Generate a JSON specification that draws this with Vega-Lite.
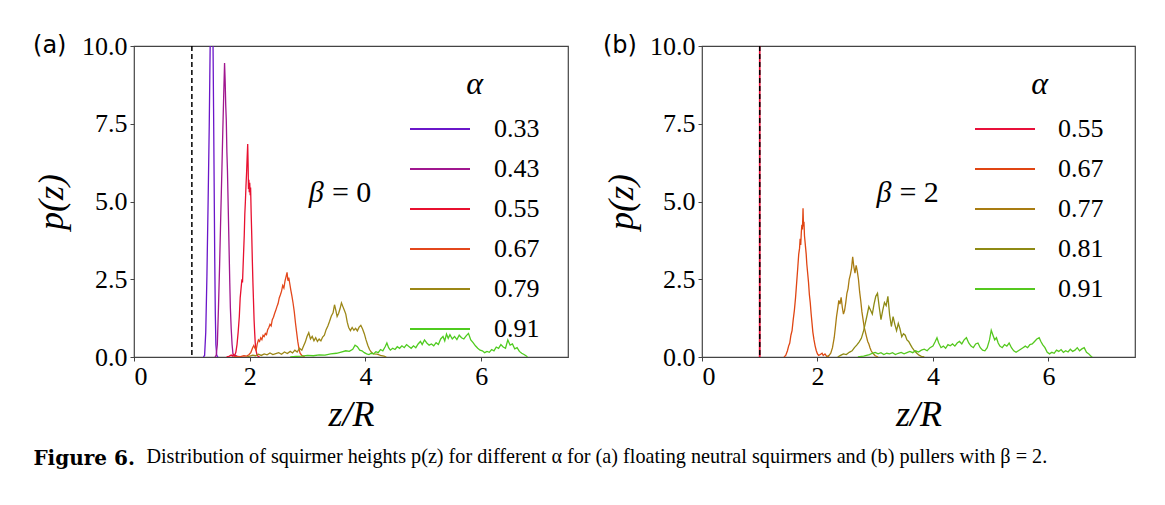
{
  "$schema": "https://vega.github.io/schema/vega-lite/v6.json",
  "background": "white",
  "padding": {"left": 32, "top": 32, "right": 5, "bottom": 5},
  "config": {
    "font": "Liberation Serif",
    "view": {"stroke": "#444", "strokeWidth": 1.2},
    "axis": {"grid": false, "domain": false, "tickColor": "#444", "tickSize": 4, "tickWidth": 1, "labelFont": "Liberation Serif", "labelFontSize": 26, "labelColor": "black", "titleFont": "Liberation Serif", "titleFontSize": 36, "titleFontStyle": "italic", "titleFontWeight": "normal", "titleColor": "black"}
  },
  "datasets": {
    "a": [
      {"s":"0.33","z":1.20,"p":0},{"s":"0.33","z":1.22,"p":0.05},{"s":"0.33","z":1.24,"p":0.8},{"s":"0.33","z":1.26,"p":2.6},{"s":"0.33","z":1.28,"p":4.9},{"s":"0.33","z":1.30,"p":7.4},{"s":"0.33","z":1.31,"p":9.0},{"s":"0.33","z":1.32,"p":10.6},{"s":"0.33","z":1.33,"p":11.8},{"s":"0.33","z":1.345,"p":12.2},{"s":"0.33","z":1.355,"p":11.4},{"s":"0.33","z":1.365,"p":10.2},{"s":"0.33","z":1.375,"p":8.0},{"s":"0.33","z":1.385,"p":5.6},{"s":"0.33","z":1.395,"p":3.2},{"s":"0.33","z":1.405,"p":1.4},{"s":"0.33","z":1.415,"p":0.4},{"s":"0.33","z":1.43,"p":0.05},{"s":"0.33","z":1.45,"p":0},
      {"s":"0.43","z":1.40,"p":0},{"s":"0.43","z":1.42,"p":0.05},{"s":"0.43","z":1.44,"p":0.4},{"s":"0.43","z":1.46,"p":1.6},{"s":"0.43","z":1.48,"p":3.0},{"s":"0.43","z":1.50,"p":4.6},{"s":"0.43","z":1.52,"p":6.1},{"s":"0.43","z":1.535,"p":7.3},{"s":"0.43","z":1.55,"p":8.4},{"s":"0.43","z":1.565,"p":9.45},{"s":"0.43","z":1.575,"p":8.9},{"s":"0.43","z":1.585,"p":8.1},{"s":"0.43","z":1.595,"p":7.6},{"s":"0.43","z":1.605,"p":6.6},{"s":"0.43","z":1.615,"p":6.0},{"s":"0.43","z":1.625,"p":5.1},{"s":"0.43","z":1.635,"p":4.2},{"s":"0.43","z":1.645,"p":3.3},{"s":"0.43","z":1.655,"p":2.4},{"s":"0.43","z":1.665,"p":1.6},{"s":"0.43","z":1.68,"p":0.9},{"s":"0.43","z":1.695,"p":0.4},{"s":"0.43","z":1.71,"p":0.1},{"s":"0.43","z":1.73,"p":0.02},{"s":"0.43","z":1.76,"p":0.05},{"s":"0.43","z":1.80,"p":0},
      {"s":"0.55","z":1.60,"p":0},{"s":"0.55","z":1.64,"p":0.02},{"s":"0.55","z":1.68,"p":0.06},{"s":"0.55","z":1.70,"p":0.03},{"s":"0.55","z":1.72,"p":0.08},{"s":"0.55","z":1.74,"p":0.05},{"s":"0.55","z":1.76,"p":0.15},{"s":"0.55","z":1.78,"p":0.4},{"s":"0.55","z":1.80,"p":0.8},{"s":"0.55","z":1.82,"p":1.3},{"s":"0.55","z":1.835,"p":1.9},{"s":"0.55","z":1.85,"p":2.2},{"s":"0.55","z":1.865,"p":2.5},{"s":"0.55","z":1.875,"p":2.4},{"s":"0.55","z":1.885,"p":2.9},{"s":"0.55","z":1.895,"p":3.4},{"s":"0.55","z":1.905,"p":3.9},{"s":"0.55","z":1.915,"p":4.6},{"s":"0.55","z":1.925,"p":5.0},{"s":"0.55","z":1.935,"p":5.5},{"s":"0.55","z":1.945,"p":5.9},{"s":"0.55","z":1.955,"p":6.4},{"s":"0.55","z":1.965,"p":6.85},{"s":"0.55","z":1.972,"p":6.2},{"s":"0.55","z":1.978,"p":5.4},{"s":"0.55","z":1.985,"p":5.7},{"s":"0.55","z":1.992,"p":5.3},{"s":"0.55","z":2.0,"p":5.6},{"s":"0.55","z":2.008,"p":5.2},{"s":"0.55","z":2.015,"p":5.45},{"s":"0.55","z":2.025,"p":4.6},{"s":"0.55","z":2.035,"p":3.9},{"s":"0.55","z":2.045,"p":3.1},{"s":"0.55","z":2.055,"p":2.4},{"s":"0.55","z":2.065,"p":1.8},{"s":"0.55","z":2.075,"p":1.2},{"s":"0.55","z":2.085,"p":0.8},{"s":"0.55","z":2.095,"p":0.45},{"s":"0.55","z":2.11,"p":0.2},{"s":"0.55","z":2.125,"p":0.08},{"s":"0.55","z":2.14,"p":0.03},{"s":"0.55","z":2.17,"p":0},
      {"s":"0.67","z":1.72,"p":0},{"s":"0.67","z":1.78,"p":0.02},{"s":"0.67","z":1.84,"p":0.01},{"s":"0.67","z":1.90,"p":0.04},{"s":"0.67","z":1.95,"p":0.03},{"s":"0.67","z":1.99,"p":0.08},{"s":"0.67","z":2.02,"p":0.15},{"s":"0.67","z":2.05,"p":0.3},{"s":"0.67","z":2.07,"p":0.37},{"s":"0.67","z":2.09,"p":0.28},{"s":"0.67","z":2.11,"p":0.22},{"s":"0.67","z":2.13,"p":0.42},{"s":"0.67","z":2.15,"p":0.55},{"s":"0.67","z":2.17,"p":0.5},{"s":"0.67","z":2.19,"p":0.62},{"s":"0.67","z":2.21,"p":0.56},{"s":"0.67","z":2.23,"p":0.7},{"s":"0.67","z":2.25,"p":0.66},{"s":"0.67","z":2.27,"p":0.76},{"s":"0.67","z":2.29,"p":0.72},{"s":"0.67","z":2.31,"p":0.88},{"s":"0.67","z":2.33,"p":0.95},{"s":"0.67","z":2.35,"p":1.05},{"s":"0.67","z":2.37,"p":1.0},{"s":"0.67","z":2.39,"p":1.2},{"s":"0.67","z":2.41,"p":1.28},{"s":"0.67","z":2.43,"p":1.4},{"s":"0.67","z":2.45,"p":1.5},{"s":"0.67","z":2.47,"p":1.62},{"s":"0.67","z":2.49,"p":1.72},{"s":"0.67","z":2.51,"p":1.9},{"s":"0.67","z":2.53,"p":2.0},{"s":"0.67","z":2.55,"p":2.12},{"s":"0.67","z":2.57,"p":2.3},{"s":"0.67","z":2.59,"p":2.22},{"s":"0.67","z":2.61,"p":2.45},{"s":"0.67","z":2.63,"p":2.6},{"s":"0.67","z":2.645,"p":2.72},{"s":"0.67","z":2.66,"p":2.45},{"s":"0.67","z":2.675,"p":2.55},{"s":"0.67","z":2.69,"p":2.38},{"s":"0.67","z":2.71,"p":2.15},{"s":"0.67","z":2.73,"p":1.95},{"s":"0.67","z":2.75,"p":1.72},{"s":"0.67","z":2.77,"p":1.45},{"s":"0.67","z":2.79,"p":1.1},{"s":"0.67","z":2.81,"p":0.8},{"s":"0.67","z":2.83,"p":0.5},{"s":"0.67","z":2.85,"p":0.28},{"s":"0.67","z":2.87,"p":0.12},{"s":"0.67","z":2.9,"p":0.05},{"s":"0.67","z":2.95,"p":0},
      {"s":"0.79","z":1.95,"p":0},{"s":"0.79","z":2.0,"p":0.03},{"s":"0.79","z":2.05,"p":0.06},{"s":"0.79","z":2.1,"p":0.04},{"s":"0.79","z":2.15,"p":0.09},{"s":"0.79","z":2.2,"p":0.05},{"s":"0.79","z":2.25,"p":0.1},{"s":"0.79","z":2.3,"p":0.07},{"s":"0.79","z":2.35,"p":0.13},{"s":"0.79","z":2.4,"p":0.08},{"s":"0.79","z":2.45,"p":0.11},{"s":"0.79","z":2.5,"p":0.14},{"s":"0.79","z":2.55,"p":0.09},{"s":"0.79","z":2.6,"p":0.16},{"s":"0.79","z":2.65,"p":0.11},{"s":"0.79","z":2.7,"p":0.18},{"s":"0.79","z":2.74,"p":0.13},{"s":"0.79","z":2.78,"p":0.22},{"s":"0.79","z":2.82,"p":0.16},{"s":"0.79","z":2.86,"p":0.28},{"s":"0.79","z":2.9,"p":0.22},{"s":"0.79","z":2.93,"p":0.35},{"s":"0.79","z":2.96,"p":0.48},{"s":"0.79","z":2.99,"p":0.66},{"s":"0.79","z":3.02,"p":0.78},{"s":"0.79","z":3.05,"p":0.58},{"s":"0.79","z":3.08,"p":0.66},{"s":"0.79","z":3.11,"p":0.52},{"s":"0.79","z":3.14,"p":0.62},{"s":"0.79","z":3.17,"p":0.5},{"s":"0.79","z":3.2,"p":0.58},{"s":"0.79","z":3.23,"p":0.52},{"s":"0.79","z":3.26,"p":0.64},{"s":"0.79","z":3.29,"p":0.7},{"s":"0.79","z":3.32,"p":0.88},{"s":"0.79","z":3.35,"p":1.0},{"s":"0.79","z":3.38,"p":1.15},{"s":"0.79","z":3.41,"p":1.32},{"s":"0.79","z":3.44,"p":1.42},{"s":"0.79","z":3.465,"p":1.68},{"s":"0.79","z":3.49,"p":1.48},{"s":"0.79","z":3.51,"p":1.3},{"s":"0.79","z":3.535,"p":1.4},{"s":"0.79","z":3.56,"p":1.55},{"s":"0.79","z":3.585,"p":1.74},{"s":"0.79","z":3.61,"p":1.62},{"s":"0.79","z":3.635,"p":1.5},{"s":"0.79","z":3.66,"p":1.38},{"s":"0.79","z":3.685,"p":1.12},{"s":"0.79","z":3.71,"p":0.95},{"s":"0.79","z":3.74,"p":0.85},{"s":"0.79","z":3.77,"p":0.95},{"s":"0.79","z":3.8,"p":0.86},{"s":"0.79","z":3.83,"p":0.92},{"s":"0.79","z":3.86,"p":0.84},{"s":"0.79","z":3.89,"p":0.96},{"s":"0.79","z":3.92,"p":1.02},{"s":"0.79","z":3.95,"p":0.9},{"s":"0.79","z":3.98,"p":0.75},{"s":"0.79","z":4.01,"p":0.55},{"s":"0.79","z":4.04,"p":0.38},{"s":"0.79","z":4.07,"p":0.24},{"s":"0.79","z":4.1,"p":0.16},{"s":"0.79","z":4.14,"p":0.1},{"s":"0.79","z":4.2,"p":0.09},{"s":"0.79","z":4.26,"p":0.05},{"s":"0.79","z":4.32,"p":0.03},{"s":"0.79","z":4.36,"p":0},
      {"s":"0.91","z":2.7,"p":0},{"s":"0.91","z":2.8,"p":0.02},{"s":"0.91","z":2.9,"p":0.03},{"s":"0.91","z":3.0,"p":0.05},{"s":"0.91","z":3.1,"p":0.04},{"s":"0.91","z":3.2,"p":0.07},{"s":"0.91","z":3.3,"p":0.06},{"s":"0.91","z":3.4,"p":0.1},{"s":"0.91","z":3.5,"p":0.12},{"s":"0.91","z":3.58,"p":0.16},{"s":"0.91","z":3.66,"p":0.2},{"s":"0.91","z":3.72,"p":0.18},{"s":"0.91","z":3.78,"p":0.25},{"s":"0.91","z":3.82,"p":0.38},{"s":"0.91","z":3.86,"p":0.33},{"s":"0.91","z":3.9,"p":0.22},{"s":"0.91","z":3.94,"p":0.2},{"s":"0.91","z":3.98,"p":0.14},{"s":"0.91","z":4.02,"p":0.1},{"s":"0.91","z":4.06,"p":0.08},{"s":"0.91","z":4.1,"p":0.12},{"s":"0.91","z":4.14,"p":0.1},{"s":"0.91","z":4.18,"p":0.17},{"s":"0.91","z":4.22,"p":0.14},{"s":"0.91","z":4.26,"p":0.24},{"s":"0.91","z":4.3,"p":0.2},{"s":"0.91","z":4.34,"p":0.33},{"s":"0.91","z":4.37,"p":0.45},{"s":"0.91","z":4.4,"p":0.3},{"s":"0.91","z":4.43,"p":0.22},{"s":"0.91","z":4.47,"p":0.28},{"s":"0.91","z":4.51,"p":0.24},{"s":"0.91","z":4.55,"p":0.33},{"s":"0.91","z":4.59,"p":0.28},{"s":"0.91","z":4.63,"p":0.36},{"s":"0.91","z":4.67,"p":0.3},{"s":"0.91","z":4.71,"p":0.4},{"s":"0.91","z":4.75,"p":0.34},{"s":"0.91","z":4.79,"p":0.28},{"s":"0.91","z":4.83,"p":0.36},{"s":"0.91","z":4.87,"p":0.3},{"s":"0.91","z":4.91,"p":0.42},{"s":"0.91","z":4.95,"p":0.5},{"s":"0.91","z":4.98,"p":0.4},{"s":"0.91","z":5.02,"p":0.55},{"s":"0.91","z":5.06,"p":0.45},{"s":"0.91","z":5.1,"p":0.38},{"s":"0.91","z":5.14,"p":0.42},{"s":"0.91","z":5.18,"p":0.36},{"s":"0.91","z":5.22,"p":0.46},{"s":"0.91","z":5.26,"p":0.4},{"s":"0.91","z":5.3,"p":0.58},{"s":"0.91","z":5.34,"p":0.66},{"s":"0.91","z":5.37,"p":0.52},{"s":"0.91","z":5.4,"p":0.74},{"s":"0.91","z":5.43,"p":0.6},{"s":"0.91","z":5.46,"p":0.72},{"s":"0.91","z":5.5,"p":0.58},{"s":"0.91","z":5.54,"p":0.66},{"s":"0.91","z":5.58,"p":0.56},{"s":"0.91","z":5.62,"p":0.7},{"s":"0.91","z":5.66,"p":0.62},{"s":"0.91","z":5.7,"p":0.58},{"s":"0.91","z":5.74,"p":0.68},{"s":"0.91","z":5.78,"p":0.76},{"s":"0.91","z":5.82,"p":0.55},{"s":"0.91","z":5.86,"p":0.46},{"s":"0.91","z":5.9,"p":0.36},{"s":"0.91","z":5.94,"p":0.28},{"s":"0.91","z":5.98,"p":0.22},{"s":"0.91","z":6.02,"p":0.2},{"s":"0.91","z":6.06,"p":0.14},{"s":"0.91","z":6.1,"p":0.18},{"s":"0.91","z":6.14,"p":0.15},{"s":"0.91","z":6.18,"p":0.24},{"s":"0.91","z":6.22,"p":0.2},{"s":"0.91","z":6.26,"p":0.32},{"s":"0.91","z":6.3,"p":0.28},{"s":"0.91","z":6.34,"p":0.4},{"s":"0.91","z":6.38,"p":0.32},{"s":"0.91","z":6.42,"p":0.28},{"s":"0.91","z":6.46,"p":0.55},{"s":"0.91","z":6.5,"p":0.38},{"s":"0.91","z":6.54,"p":0.42},{"s":"0.91","z":6.58,"p":0.26},{"s":"0.91","z":6.62,"p":0.3},{"s":"0.91","z":6.66,"p":0.18},{"s":"0.91","z":6.7,"p":0.12},{"s":"0.91","z":6.74,"p":0.08},{"s":"0.91","z":6.78,"p":0.03},{"s":"0.91","z":6.8,"p":0}
    ],
    "b": [
      {"s":"0.55","z":0.995,"p":0},{"s":"0.55","z":1.0,"p":30},{"s":"0.55","z":1.005,"p":0},
      {"s":"0.67","z":1.42,"p":0},{"s":"0.67","z":1.45,"p":0.05},{"s":"0.67","z":1.48,"p":0.2},{"s":"0.67","z":1.5,"p":0.35},{"s":"0.67","z":1.52,"p":0.45},{"s":"0.67","z":1.54,"p":0.7},{"s":"0.67","z":1.56,"p":0.85},{"s":"0.67","z":1.58,"p":1.2},{"s":"0.67","z":1.6,"p":1.5},{"s":"0.67","z":1.62,"p":1.9},{"s":"0.67","z":1.64,"p":2.4},{"s":"0.67","z":1.66,"p":2.9},{"s":"0.67","z":1.675,"p":3.3},{"s":"0.67","z":1.69,"p":3.5},{"s":"0.67","z":1.7,"p":3.8},{"s":"0.67","z":1.71,"p":3.6},{"s":"0.67","z":1.72,"p":4.0},{"s":"0.67","z":1.73,"p":4.25},{"s":"0.67","z":1.74,"p":4.1},{"s":"0.67","z":1.75,"p":4.78},{"s":"0.67","z":1.758,"p":4.2},{"s":"0.67","z":1.766,"p":4.35},{"s":"0.67","z":1.775,"p":3.9},{"s":"0.67","z":1.785,"p":3.7},{"s":"0.67","z":1.795,"p":3.5},{"s":"0.67","z":1.805,"p":3.3},{"s":"0.67","z":1.815,"p":3.0},{"s":"0.67","z":1.83,"p":2.7},{"s":"0.67","z":1.845,"p":2.4},{"s":"0.67","z":1.86,"p":2.0},{"s":"0.67","z":1.875,"p":1.75},{"s":"0.67","z":1.89,"p":1.4},{"s":"0.67","z":1.905,"p":1.1},{"s":"0.67","z":1.92,"p":0.8},{"s":"0.67","z":1.94,"p":0.55},{"s":"0.67","z":1.96,"p":0.35},{"s":"0.67","z":1.98,"p":0.2},{"s":"0.67","z":2.0,"p":0.1},{"s":"0.67","z":2.02,"p":0.05},{"s":"0.67","z":2.05,"p":0.08},{"s":"0.67","z":2.08,"p":0.12},{"s":"0.67","z":2.1,"p":0.05},{"s":"0.67","z":2.13,"p":0.1},{"s":"0.67","z":2.16,"p":0.02},{"s":"0.67","z":2.2,"p":0},
      {"s":"0.77","z":2.15,"p":0},{"s":"0.77","z":2.2,"p":0.05},{"s":"0.77","z":2.23,"p":0.12},{"s":"0.77","z":2.26,"p":0.3},{"s":"0.77","z":2.29,"p":0.62},{"s":"0.77","z":2.31,"p":0.95},{"s":"0.77","z":2.33,"p":1.3},{"s":"0.77","z":2.35,"p":1.55},{"s":"0.77","z":2.37,"p":1.82},{"s":"0.77","z":2.39,"p":1.7},{"s":"0.77","z":2.41,"p":1.92},{"s":"0.77","z":2.43,"p":1.6},{"s":"0.77","z":2.45,"p":1.38},{"s":"0.77","z":2.47,"p":1.5},{"s":"0.77","z":2.49,"p":1.75},{"s":"0.77","z":2.51,"p":2.05},{"s":"0.77","z":2.53,"p":2.2},{"s":"0.77","z":2.55,"p":2.5},{"s":"0.77","z":2.57,"p":2.65},{"s":"0.77","z":2.59,"p":2.85},{"s":"0.77","z":2.61,"p":3.22},{"s":"0.77","z":2.63,"p":2.9},{"s":"0.77","z":2.65,"p":2.7},{"s":"0.77","z":2.67,"p":2.95},{"s":"0.77","z":2.69,"p":2.75},{"s":"0.77","z":2.71,"p":2.5},{"s":"0.77","z":2.73,"p":2.1},{"s":"0.77","z":2.75,"p":1.8},{"s":"0.77","z":2.77,"p":1.45},{"s":"0.77","z":2.79,"p":1.2},{"s":"0.77","z":2.81,"p":0.95},{"s":"0.77","z":2.83,"p":0.8},{"s":"0.77","z":2.85,"p":0.65},{"s":"0.77","z":2.87,"p":0.5},{"s":"0.77","z":2.89,"p":0.42},{"s":"0.77","z":2.91,"p":0.3},{"s":"0.77","z":2.93,"p":0.2},{"s":"0.77","z":2.96,"p":0.12},{"s":"0.77","z":3.0,"p":0.04},{"s":"0.77","z":3.05,"p":0},
      {"s":"0.81","z":2.35,"p":0},{"s":"0.81","z":2.4,"p":0.05},{"s":"0.81","z":2.45,"p":0.1},{"s":"0.81","z":2.5,"p":0.08},{"s":"0.81","z":2.55,"p":0.15},{"s":"0.81","z":2.6,"p":0.2},{"s":"0.81","z":2.64,"p":0.3},{"s":"0.81","z":2.68,"p":0.38},{"s":"0.81","z":2.72,"p":0.48},{"s":"0.81","z":2.76,"p":0.6},{"s":"0.81","z":2.8,"p":0.85},{"s":"0.81","z":2.83,"p":1.1},{"s":"0.81","z":2.86,"p":1.35},{"s":"0.81","z":2.89,"p":1.62},{"s":"0.81","z":2.92,"p":1.5},{"s":"0.81","z":2.95,"p":1.38},{"s":"0.81","z":2.98,"p":1.7},{"s":"0.81","z":3.01,"p":1.95},{"s":"0.81","z":3.04,"p":2.05},{"s":"0.81","z":3.07,"p":1.6},{"s":"0.81","z":3.1,"p":1.2},{"s":"0.81","z":3.13,"p":1.5},{"s":"0.81","z":3.16,"p":1.75},{"s":"0.81","z":3.19,"p":1.65},{"s":"0.81","z":3.22,"p":1.95},{"s":"0.81","z":3.25,"p":1.35},{"s":"0.81","z":3.28,"p":0.98},{"s":"0.81","z":3.31,"p":1.3},{"s":"0.81","z":3.34,"p":1.05},{"s":"0.81","z":3.37,"p":0.85},{"s":"0.81","z":3.4,"p":1.08},{"s":"0.81","z":3.43,"p":0.9},{"s":"0.81","z":3.46,"p":0.65},{"s":"0.81","z":3.49,"p":0.75},{"s":"0.81","z":3.52,"p":0.7},{"s":"0.81","z":3.55,"p":0.55},{"s":"0.81","z":3.58,"p":0.5},{"s":"0.81","z":3.61,"p":0.4},{"s":"0.81","z":3.64,"p":0.3},{"s":"0.81","z":3.68,"p":0.2},{"s":"0.81","z":3.72,"p":0.12},{"s":"0.81","z":3.76,"p":0.06},{"s":"0.81","z":3.8,"p":0.02},{"s":"0.81","z":3.85,"p":0},
      {"s":"0.91","z":2.7,"p":0},{"s":"0.91","z":2.8,"p":0.03},{"s":"0.91","z":2.9,"p":0.08},{"s":"0.91","z":2.95,"p":0.12},{"s":"0.91","z":3.0,"p":0.15},{"s":"0.91","z":3.05,"p":0.1},{"s":"0.91","z":3.1,"p":0.14},{"s":"0.91","z":3.15,"p":0.08},{"s":"0.91","z":3.2,"p":0.12},{"s":"0.91","z":3.25,"p":0.1},{"s":"0.91","z":3.3,"p":0.14},{"s":"0.91","z":3.35,"p":0.08},{"s":"0.91","z":3.4,"p":0.12},{"s":"0.91","z":3.45,"p":0.15},{"s":"0.91","z":3.5,"p":0.1},{"s":"0.91","z":3.55,"p":0.14},{"s":"0.91","z":3.6,"p":0.18},{"s":"0.91","z":3.65,"p":0.14},{"s":"0.91","z":3.7,"p":0.2},{"s":"0.91","z":3.75,"p":0.16},{"s":"0.91","z":3.8,"p":0.22},{"s":"0.91","z":3.85,"p":0.25},{"s":"0.91","z":3.9,"p":0.2},{"s":"0.91","z":3.95,"p":0.3},{"s":"0.91","z":4.0,"p":0.35},{"s":"0.91","z":4.04,"p":0.5},{"s":"0.91","z":4.07,"p":0.62},{"s":"0.91","z":4.1,"p":0.45},{"s":"0.91","z":4.14,"p":0.3},{"s":"0.91","z":4.18,"p":0.35},{"s":"0.91","z":4.22,"p":0.28},{"s":"0.91","z":4.26,"p":0.4},{"s":"0.91","z":4.3,"p":0.36},{"s":"0.91","z":4.34,"p":0.42},{"s":"0.91","z":4.38,"p":0.35},{"s":"0.91","z":4.42,"p":0.45},{"s":"0.91","z":4.46,"p":0.5},{"s":"0.91","z":4.5,"p":0.42},{"s":"0.91","z":4.54,"p":0.55},{"s":"0.91","z":4.58,"p":0.62},{"s":"0.91","z":4.62,"p":0.45},{"s":"0.91","z":4.66,"p":0.35},{"s":"0.91","z":4.7,"p":0.3},{"s":"0.91","z":4.74,"p":0.42},{"s":"0.91","z":4.78,"p":0.45},{"s":"0.91","z":4.82,"p":0.3},{"s":"0.91","z":4.86,"p":0.22},{"s":"0.91","z":4.9,"p":0.2},{"s":"0.91","z":4.94,"p":0.3},{"s":"0.91","z":4.98,"p":0.55},{"s":"0.91","z":5.01,"p":0.86},{"s":"0.91","z":5.04,"p":0.7},{"s":"0.91","z":5.07,"p":0.55},{"s":"0.91","z":5.1,"p":0.62},{"s":"0.91","z":5.13,"p":0.45},{"s":"0.91","z":5.16,"p":0.35},{"s":"0.91","z":5.2,"p":0.3},{"s":"0.91","z":5.24,"p":0.4},{"s":"0.91","z":5.28,"p":0.35},{"s":"0.91","z":5.32,"p":0.45},{"s":"0.91","z":5.36,"p":0.3},{"s":"0.91","z":5.4,"p":0.2},{"s":"0.91","z":5.44,"p":0.15},{"s":"0.91","z":5.48,"p":0.2},{"s":"0.91","z":5.52,"p":0.25},{"s":"0.91","z":5.56,"p":0.3},{"s":"0.91","z":5.6,"p":0.35},{"s":"0.91","z":5.64,"p":0.3},{"s":"0.91","z":5.68,"p":0.4},{"s":"0.91","z":5.72,"p":0.42},{"s":"0.91","z":5.76,"p":0.5},{"s":"0.91","z":5.8,"p":0.58},{"s":"0.91","z":5.84,"p":0.62},{"s":"0.91","z":5.87,"p":0.5},{"s":"0.91","z":5.9,"p":0.4},{"s":"0.91","z":5.94,"p":0.3},{"s":"0.91","z":5.98,"p":0.15},{"s":"0.91","z":6.02,"p":0.1},{"s":"0.91","z":6.06,"p":0.15},{"s":"0.91","z":6.1,"p":0.12},{"s":"0.91","z":6.14,"p":0.22},{"s":"0.91","z":6.18,"p":0.18},{"s":"0.91","z":6.22,"p":0.24},{"s":"0.91","z":6.26,"p":0.15},{"s":"0.91","z":6.3,"p":0.2},{"s":"0.91","z":6.34,"p":0.16},{"s":"0.91","z":6.38,"p":0.25},{"s":"0.91","z":6.42,"p":0.18},{"s":"0.91","z":6.46,"p":0.22},{"s":"0.91","z":6.5,"p":0.3},{"s":"0.91","z":6.54,"p":0.2},{"s":"0.91","z":6.58,"p":0.26},{"s":"0.91","z":6.62,"p":0.3},{"s":"0.91","z":6.66,"p":0.15},{"s":"0.91","z":6.7,"p":0.1},{"s":"0.91","z":6.74,"p":0.02},{"s":"0.91","z":6.76,"p":0}
    ],
    "wall": [{"z": 1}]
  },
  "title": {"text": "Distribution of squirmer heights p(z) for different α for (a) floating neutral squirmers and (b) pullers with β = 2.", "orient": "bottom", "anchor": "start", "frame": "bounds", "font": "Liberation Serif", "fontSize": 20.2, "fontWeight": "normal", "color": "black", "offset": 0, "dx": 114, "dy": -22},
  "vconcat": [
    {
      "title": {"text": "Figure 6.", "orient": "bottom", "anchor": "start", "frame": "bounds", "font": "DejaVu Serif", "fontSize": 20, "fontWeight": "bold", "color": "black", "offset": 16, "dx": 1},
      "spacing": 33,
      "resolve": {"scale": {"color": "independent"}, "legend": {"color": "independent"}},
      "hconcat": [
        {
          "width": 434, "height": 311,
          "layer": [
            {
              "data": {"name": "a"},
              "mark": {"type": "line", "strokeWidth": 1.3, "clip": true},
              "encoding": {
                "x": {"field": "z", "type": "quantitative", "scale": {"domain": [0, 7.5], "nice": false, "zero": false}, "axis": {"values": [0, 2, 4, 6], "format": "d", "title": "z/R", "labelPadding": 2, "titlePadding": 8}},
                "y": {"field": "p", "type": "quantitative", "scale": {"domain": [0, 10], "nice": false}, "axis": {"values": [0, 2.5, 5, 7.5, 10], "format": ".1f", "title": "p(z)", "labelPadding": 3, "titlePadding": 11}},
                "color": {"field": "s", "type": "nominal", "scale": {"domain": ["0.33", "0.43", "0.55", "0.67", "0.79", "0.91"], "range": ["#6a16c9", "#a0168f", "#e8102f", "#e3471c", "#9c8717", "#4fcb1f"]},
                  "legend": {"orient": "none", "legendX": 293, "legendY": 23, "title": "α", "titleFont": "Liberation Serif", "titleFontStyle": "italic", "titleFontSize": 32, "titleFontWeight": "normal", "titleColor": "black", "titleAnchor": "middle", "titleAlign": "right", "titlePadding": 15, "symbolType": "M-3,0H3", "symbolSize": 400, "symbolStrokeWidth": 2, "labelFont": "Liberation Serif", "labelFontSize": 26, "labelColor": "black", "labelOffset": 41, "rowPadding": 14, "padding": 0}}
              }
            },
            {
              "data": {"name": "wall"},
              "mark": {"type": "rule", "color": "black", "strokeDash": [5, 3], "strokeWidth": 1.5},
              "encoding": {"x": {"field": "z", "type": "quantitative"}}
            },
            {
              "data": {"values": [{}]},
              "mark": {"type": "text", "text": "β", "font": "Liberation Serif", "fontStyle": "italic", "fontSize": 30, "color": "black", "align": "center"},
              "encoding": {"x": {"datum": 3.15}, "y": {"datum": 5.26}}
            },
            {
              "data": {"values": [{}]},
              "mark": {"type": "text", "text": "= 0", "font": "Liberation Serif", "fontSize": 30, "color": "black", "align": "left"},
              "encoding": {"x": {"datum": 3.42}, "y": {"datum": 5.26}}
            },
            {
              "data": {"values": [{}]},
              "mark": {"type": "text", "text": "(a)", "font": "DejaVu Sans", "fontSize": 24, "color": "black", "align": "left", "baseline": "middle"},
              "encoding": {"x": {"datum": -1.745}, "y": {"datum": 10}}
            }
          ]
        },
        {
          "width": 433, "height": 311,
          "layer": [
            {
              "data": {"name": "b"},
              "mark": {"type": "line", "strokeWidth": 1.3, "clip": true},
              "encoding": {
                "x": {"field": "z", "type": "quantitative", "scale": {"domain": [0, 7.5], "nice": false, "zero": false}, "axis": {"values": [0, 2, 4, 6], "format": "d", "title": "z/R", "labelPadding": 2, "titlePadding": 8}},
                "y": {"field": "p", "type": "quantitative", "scale": {"domain": [0, 10], "nice": false}, "axis": {"values": [0, 2.5, 5, 7.5, 10], "format": ".1f", "title": "p(z)", "labelPadding": 3, "titlePadding": 9}},
                "color": {"field": "s", "type": "nominal", "scale": {"domain": ["0.55", "0.67", "0.77", "0.81", "0.91"], "range": ["#e8103a", "#e04513", "#a87c12", "#8e8a14", "#55c81f"]},
                  "legend": {"orient": "none", "legendX": 290, "legendY": 23, "title": "α", "titleFont": "Liberation Serif", "titleFontStyle": "italic", "titleFontSize": 32, "titleFontWeight": "normal", "titleColor": "black", "titleAnchor": "middle", "titleAlign": "right", "titlePadding": 15, "symbolType": "M-3,0H3", "symbolSize": 400, "symbolStrokeWidth": 2, "labelFont": "Liberation Serif", "labelFontSize": 26, "labelColor": "black", "labelOffset": 40, "rowPadding": 14, "padding": 0}}
              }
            },
            {
              "data": {"name": "wall"},
              "mark": {"type": "rule", "color": "black", "strokeDash": [5, 3], "strokeWidth": 1.5},
              "encoding": {"x": {"field": "z", "type": "quantitative"}}
            },
            {
              "data": {"values": [{}]},
              "mark": {"type": "text", "text": "β", "font": "Liberation Serif", "fontStyle": "italic", "fontSize": 30, "color": "black", "align": "center"},
              "encoding": {"x": {"datum": 3.15}, "y": {"datum": 5.26}}
            },
            {
              "data": {"values": [{}]},
              "mark": {"type": "text", "text": "= 2", "font": "Liberation Serif", "fontSize": 30, "color": "black", "align": "left"},
              "encoding": {"x": {"datum": 3.42}, "y": {"datum": 5.26}}
            },
            {
              "data": {"values": [{}]},
              "mark": {"type": "text", "text": "(b)", "font": "DejaVu Sans", "fontSize": 24, "color": "black", "align": "left", "baseline": "middle"},
              "encoding": {"x": {"datum": -1.715}, "y": {"datum": 10}}
            }
          ]
        }
      ]
    }
  ]
}
